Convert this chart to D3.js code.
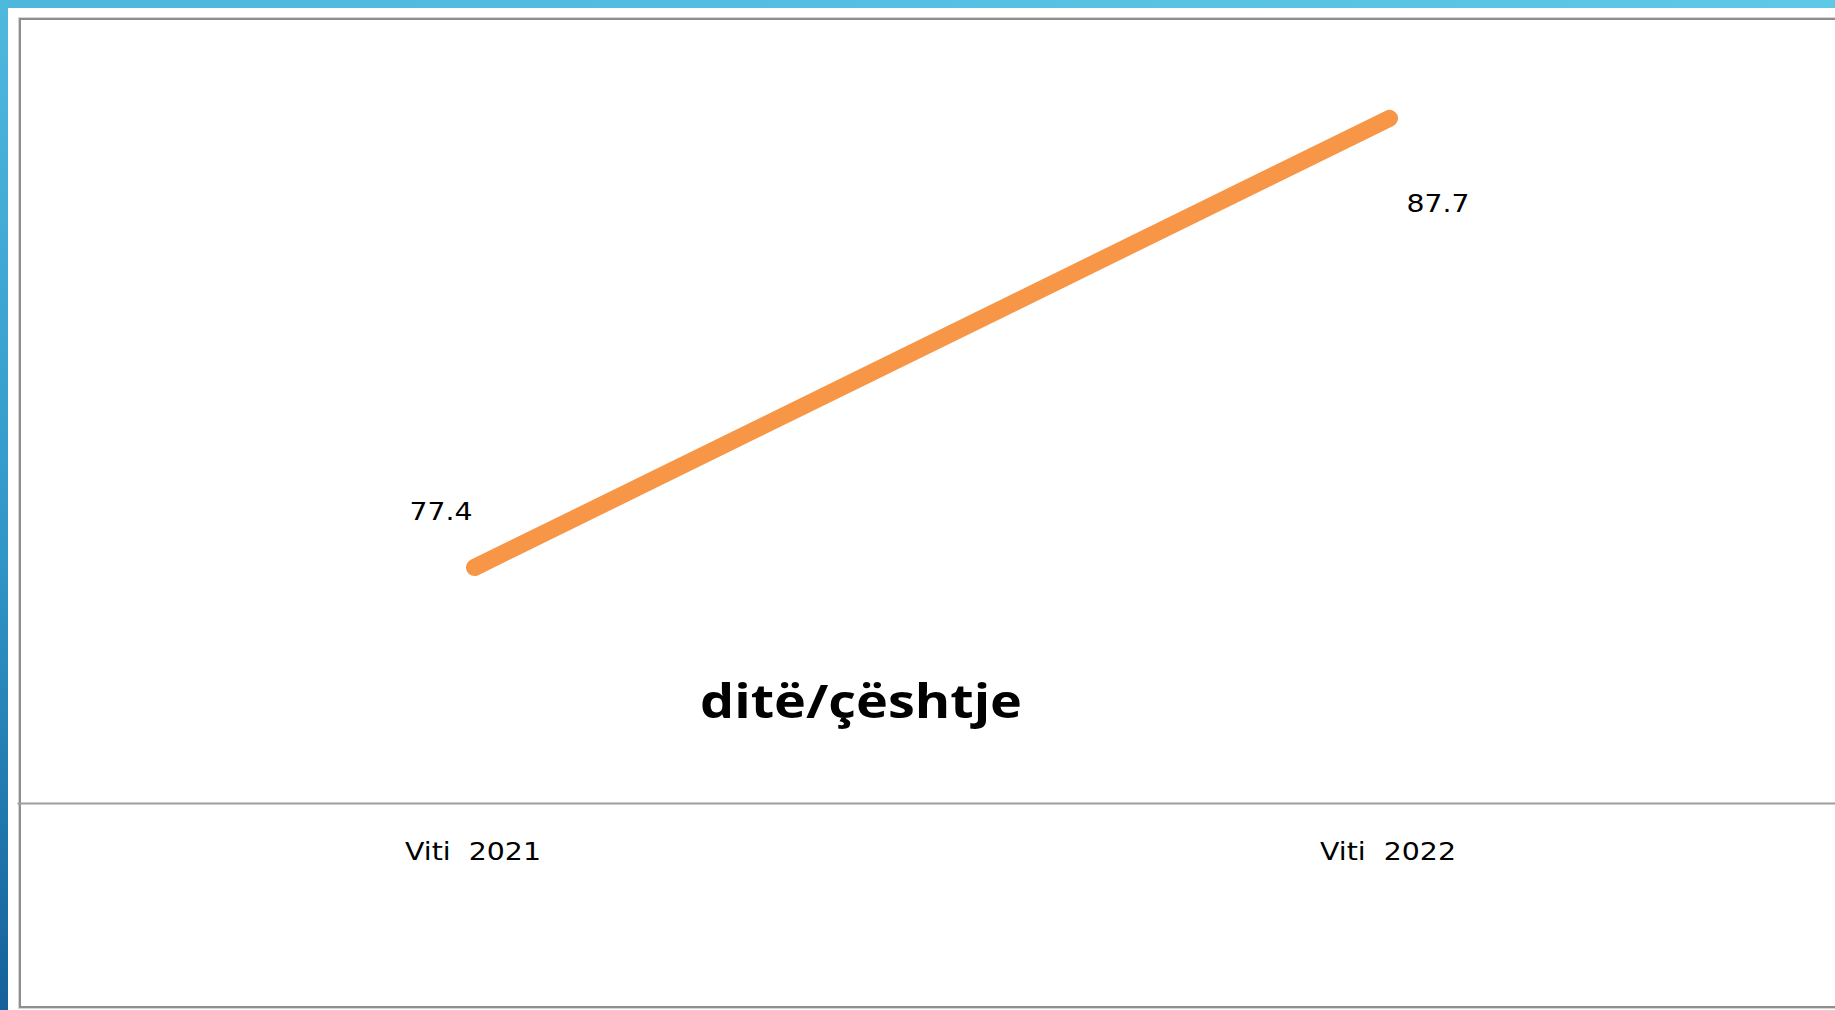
<!DOCTYPE html>
<html>
<head>
<meta charset="utf-8">
<script src="https://cdn.jsdelivr.net/npm/d3@7"></script>
<style>
  html, body { margin: 0; padding: 0; background: #fff; overflow: hidden; }
  svg { display: block; }
</style>
</head>
<body>
<svg id="chart" width="1835" height="1010"></svg>
<script>
// ---- data ----
const categories = ["Viti  2021", "Viti  2022"];
const values = [77.4, 87.7];
const valueLabels = ["77.4", "87.7"];
const chartTitle = "ditë/çështje";
const yDomain = [72, 90];

// ---- setup ----
const W = 1835, H = 1010;
const svg = d3.select("#chart");

const defs = svg.append("defs");
const gLeft = defs.append("linearGradient").attr("id", "gLeft")
  .attr("x1", 0).attr("y1", 0).attr("x2", 0).attr("y2", 1);
gLeft.append("stop").attr("offset", "0%").attr("stop-color", "#4fb9dd");
gLeft.append("stop").attr("offset", "55%").attr("stop-color", "#3196c8");
gLeft.append("stop").attr("offset", "100%").attr("stop-color", "#15609c");
const gTop = defs.append("linearGradient").attr("id", "gTop")
  .attr("x1", 0).attr("y1", 0).attr("x2", 1).attr("y2", 0);
gTop.append("stop").attr("offset", "0%").attr("stop-color", "#4db7dc");
gTop.append("stop").attr("offset", "100%").attr("stop-color", "#5dc9e6");

// decorative frame bands
svg.append("rect").attr("x", 0).attr("y", 0).attr("width", W).attr("height", 8).attr("fill", "url(#gTop)");
svg.append("rect").attr("x", 0).attr("y", 0).attr("width", 8).attr("height", H).attr("fill", "url(#gLeft)");

// chart border (with soft shadow)
svg.append("rect").attr("x", 20).attr("y", 19).attr("width", 1840).attr("height", 988)
  .attr("fill", "none").attr("stroke", "#d6d6d6").attr("stroke-width", 4);
svg.append("rect").attr("x", 20).attr("y", 19).attr("width", 1840).attr("height", 988)
  .attr("fill", "#fff").attr("stroke", "#8e8e8e").attr("stroke-width", 2);

// ---- scales ----
const x = d3.scalePoint().domain(categories).range([17, 1847]).padding(0.5);
const y = d3.scaleLinear().domain(yDomain).range([803, 18]);

// ---- axis ----
const xAxis = d3.axisBottom(x).tickSize(0).tickSizeOuter(0).tickPadding(39);
const ax = svg.append("g").attr("transform", `translate(0,${y(yDomain[0])})`).call(xAxis);
ax.select(".domain").attr("stroke", "#9e9e9e").attr("stroke-width", 2);
ax.selectAll(".tick text")
  .attr("font-family", "'DejaVu Sans', Verdana, sans-serif")
  .attr("font-size", 25)
  .attr("fill", "#000")
  .style("white-space", "pre")
  .attr("dx", -2)
  .attr("textLength", 136)
  .attr("lengthAdjust", "spacingAndGlyphs");

// ---- line ----
const pts = categories.map((c, i) => ({ c, v: values[i], label: valueLabels[i] }));
const line = d3.line().x(d => x(d.c)).y(d => y(d.v));
svg.append("path")
  .datum(pts)
  .attr("d", line)
  .attr("fill", "none")
  .attr("stroke", "#f79646")
  .attr("stroke-width", 17)
  .attr("stroke-linecap", "round")
  .attr("stroke-linejoin", "round");

// ---- data labels ----
const labelOffsets = [ { dx: -2, dy: -48, anchor: "end" }, { dx: 17, dy: 94, anchor: "start" } ];
svg.selectAll(".vlabel")
  .data(pts)
  .join("text")
  .attr("class", "vlabel")
  .attr("x", (d, i) => x(d.c) + labelOffsets[i].dx)
  .attr("y", (d, i) => y(d.v) + labelOffsets[i].dy)
  .attr("text-anchor", (d, i) => labelOffsets[i].anchor)
  .attr("font-family", "'DejaVu Sans', Verdana, sans-serif")
  .attr("font-size", 25)
  .attr("fill", "#000")
  .attr("textLength", 63)
  .attr("lengthAdjust", "spacingAndGlyphs")
  .text(d => d.label);

// ---- title ----
svg.append("text")
  .attr("x", 700)
  .attr("y", 718)
  .attr("font-family", "'Open Sans', Lato, sans-serif")
  .attr("font-weight", "bold")
  .attr("font-size", 47)
  .attr("fill", "#000")
  .attr("textLength", 322)
  .attr("lengthAdjust", "spacingAndGlyphs")
  .text(chartTitle);
</script>
</body>
</html>
